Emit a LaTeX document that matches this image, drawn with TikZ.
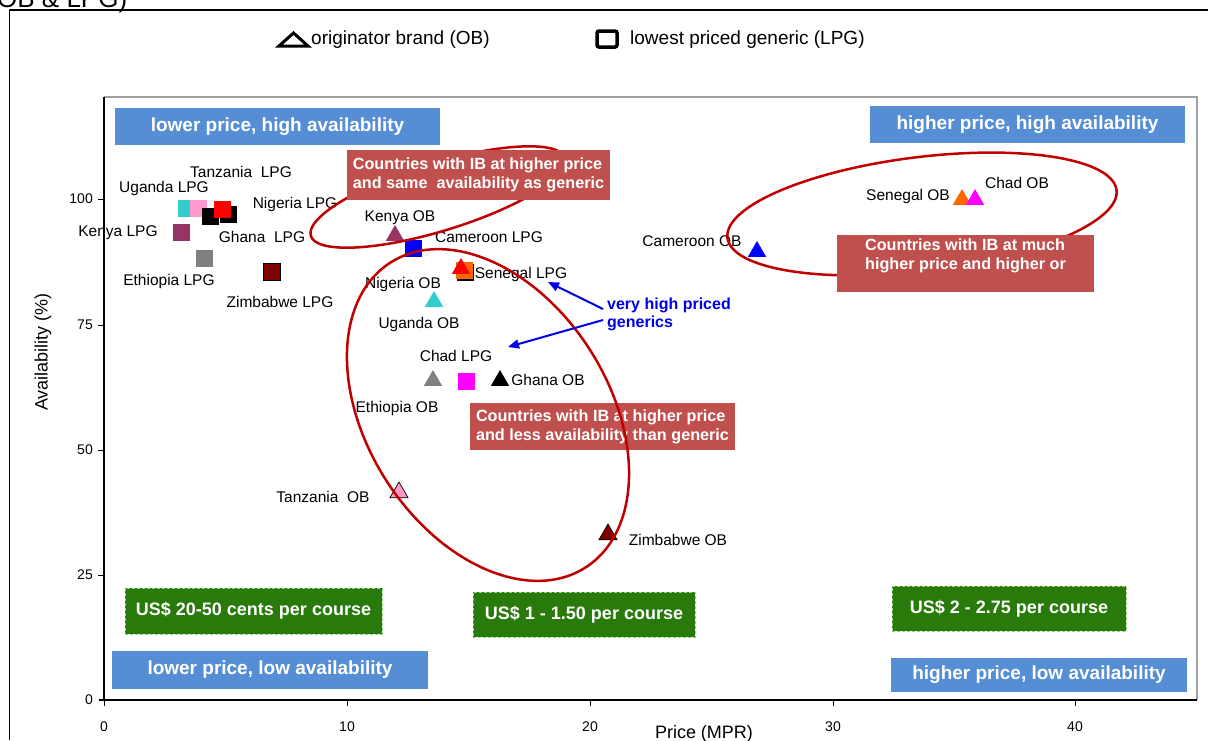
\documentclass[tikz,border=0pt]{standalone}
\usepackage{fontspec}
\setmainfont{Liberation Sans}
\usetikzlibrary{arrows.meta,shapes.geometric}
\definecolor{ellred}{RGB}{192,0,0}
\definecolor{boxred}{RGB}{192,80,77}
\definecolor{boxblue}{RGB}{85,142,213}
\definecolor{boxgreen}{RGB}{40,122,10}
\definecolor{dashgreen}{RGB}{150,210,130}
\definecolor{mcyan}{RGB}{51,204,204}
\definecolor{mpink}{RGB}{255,153,204}
\definecolor{mpurple}{RGB}{153,51,102}
\definecolor{mgray}{RGB}{128,128,128}
\definecolor{mdarkred}{RGB}{128,0,0}
\definecolor{mblue}{RGB}{0,0,255}
\definecolor{morange}{RGB}{255,102,0}
\definecolor{mmagenta}{RGB}{255,0,255}
\definecolor{mred}{RGB}{255,0,0}
\definecolor{framegray}{RGB}{160,160,160}
\definecolor{notegreen}{RGB}{0,0,230}
\begin{document}
\begin{tikzpicture}[x=1pt,y=-1pt,
  lbl/.style={font=\fontsize{15.5}{18}\selectfont, inner sep=0pt},
  ticklbl/.style={font=\fontsize{14}{16}\selectfont, inner sep=0pt},
  axtitle/.style={font=\fontsize{18}{20}\selectfont, inner sep=0pt},
  legtext/.style={font=\fontsize{19}{22}\selectfont, inner sep=0pt, anchor=west},
  ob/.style={regular polygon, regular polygon sides=3, minimum size=21pt, inner sep=0pt, fill=#1},
  lpg/.style={rectangle, minimum size=17pt, inner sep=0pt, fill=#1},
  bluebox/.style={fill=boxblue, text=white, font=\bfseries\fontsize{19}{22}\selectfont, inner sep=0pt},
  greenbox/.style={fill=boxgreen, draw=dashgreen, dash pattern=on 3pt off 2pt, line width=1pt, text=white, font=\bfseries\fontsize{18}{21}\selectfont, inner sep=0pt},
  redbox/.style={fill=boxred, text=white, font=\bfseries\fontsize{16.2}{19}\selectfont, inner sep=0pt, align=left},
  ell/.style={draw=ellred, line width=2.5pt},
  note/.style={draw=notegreen, line width=2pt, -{Triangle[length=11pt,width=9pt]}}
]
\useasboundingbox (0,0) rectangle (1208,740);

% cut-off title and outer frame
\node[font=\fontsize{26}{30}\selectfont, anchor=base west, inner sep=0pt] (title) at (-3,7) {OB \& LPG)};
\draw[line width=1.3pt] (9.5,740) -- (9.5,10) -- (1208,10);

% legend
\draw[line width=3pt, line join=miter] (279,46) -- (308,46) -- (293.5,33) -- cycle;
\node[legtext] (legob) at (311,40) {originator brand (OB)};
\draw[line width=3.5pt, rounded corners=2pt] (597,31) rectangle (617,47);
\node[legtext] (leglpg) at (630,40) {lowest priced generic (LPG)};

% plot frame
\draw[framegray, line width=1.2pt] (104,97) -- (1197,97) -- (1197,700);
\draw[line width=2pt] (104,97) -- (104,700);
\draw[line width=2.5pt] (99,700) -- (1197,700);
\foreach \yy in {575,450,325,199} \draw[line width=1pt] (98,\yy) -- (104,\yy);
\foreach \xx in {104,347,590,833,1075} \draw[line width=1pt] (\xx,700) -- (\xx,706);

% tick labels
\node[ticklbl, anchor=east] (y0) at (93,700) {0};
\node[ticklbl, anchor=east] (y25) at (93,575) {25};
\node[ticklbl, anchor=east] (y50) at (93,450) {50};
\node[ticklbl, anchor=east] (y75) at (93,325) {75};
\node[ticklbl, anchor=east] (y100) at (93,199) {100};
\node[ticklbl] (x0) at (104,727) {0};
\node[ticklbl] (x10) at (347,727) {10};
\node[ticklbl] (x20) at (590,727) {20};
\node[ticklbl] (x30) at (833,727) {30};
\node[ticklbl] (x40) at (1075,727) {40};
\node[axtitle] (xtitle) at (704,734) {Price (MPR)};
\node[axtitle, rotate=90] (ytitle) at (43,352) {Availability (\%)};

% quadrant boxes
\node[bluebox, minimum width=325pt, minimum height=37pt] (lph) at (277.5,126.5) {lower price, high availability};
\node[bluebox, minimum width=315pt, minimum height=37pt] (hph) at (1027.5,124.5) {higher price, high availability};
\node[bluebox, minimum width=316pt, minimum height=38pt] (lpl) at (270,670) {lower price, low availability};
\node[bluebox, minimum width=296pt, minimum height=34pt] (hpl) at (1039,675) {higher price, low availability};

% price boxes
\node[greenbox, minimum width=257pt, minimum height=46pt] (g1) at (253.5,611) {US\$ 20-50 cents per course};
\node[greenbox, minimum width=222pt, minimum height=45pt] (g2) at (584,614.5) {US\$ 1 - 1.50 per course};
\node[greenbox, minimum width=234pt, minimum height=45pt] (g3) at (1009,608.5) {US\$ 2 - 2.75 per course};

% lower red box (under the ellipse)
\node[redbox, minimum width=265pt, minimum height=47pt] (r3) at (602.5,426.5) {Countries with IB at higher price\\and less availability than generic};

% LPG markers
\node[lpg=mcyan] (ugl) at (186,208) {};
\node[lpg=mpink] (tzl) at (198,208) {};
\node[lpg=black] (ghl) at (210,216) {};
\node[lpg=black] (ghl2) at (228,214) {};
\node[lpg=mred] (ngl) at (222,209) {};
\node[lpg=mpurple] (kel) at (181,232) {};
\node[lpg=mgray] (etl) at (204,258) {};
\node[lpg=mdarkred, draw=black, line width=0.6pt] (zwl) at (272,272) {};
\node[lpg=mblue] (cml) at (413,248) {};
\node[lpg=black] (snl2) at (465,272) {};
\node[lpg=morange] (snl) at (464,270) {};
\node[lpg=mmagenta] (tdl) at (466,381) {};

% OB markers
\node[ob=mpurple] (keo) at (395,235.5) {};
\node[ob=mred] (ngo) at (461,268.5) {};
\node[ob=mcyan] (ugo) at (434,301.5) {};
\node[ob=mgray] (eto) at (433,380.5) {};
\node[ob=black] (gho) at (500,380.5) {};
\node[ob=mpink, draw=black, line width=0.7pt] (tzo) at (399,492.5) {};
\node[ob=mdarkred, draw=black, line width=0.7pt] (zwo) at (608,534.5) {};
\node[ob=mblue] (cmo) at (757,251.5) {};
\node[ob=morange] (sno) at (962,199.5) {};
\node[ob=mmagenta] (tdo) at (975,199.5) {};

% labels
\node[lbl] (tztl) at (241,172) {Tanzania~ LPG};
\node[lbl] (ugtl) at (164,188) {Uganda LPG};
\node[lbl] (ngtl) at (295,204) {Nigeria LPG};
\node[lbl] (ketl) at (118,233) {Kenya LPG};
\node[lbl] (ghtl) at (262,237) {Ghana~ LPG};
\node[lbl] (ettl) at (169,281) {Ethiopia LPG};
\node[lbl] (zwtl) at (280,302) {Zimbabwe LPG};
\node[lbl] (keto) at (400,218) {Kenya OB};
\node[lbl] (cmtl) at (489,237) {Cameroon LPG};
\node[lbl] (sntl) at (521,274) {Senegal LPG};
\node[lbl] (ngto) at (403,284) {Nigeria OB};
\node[lbl] (ugto) at (419,324) {Uganda OB};
\node[lbl] (tdtl) at (456,356) {Chad LPG};
\node[lbl] (ghto) at (548,380) {Ghana OB};
\node[lbl] (etto) at (397,408) {Ethiopia OB};
\node[lbl] (tzto) at (323,497) {Tanzania~ OB};
\node[lbl] (zwto) at (678,540) {Zimbabwe OB};
\node[lbl] (cmto) at (692,241) {Cameroon OB};
\node[lbl] (snto) at (908,196) {Senegal OB};
\node[lbl] (tdto) at (1017,183) {Chad OB};

% ellipses
\draw[ell, rotate around={17:(438,197)}] (438,197) ellipse [x radius=133, y radius=34];
\draw[ell, rotate around={7:(922,214)}] (922,214) ellipse [x radius=196, y radius=57];
\draw[ell, rotate around={-57.4:(488,415)}] (488,415) ellipse [x radius=181, y radius=121];

% upper red boxes
\node[redbox, minimum width=263pt, minimum height=50pt] (r1) at (478.5,175) {Countries with IB at higher price\\and same~ availability as generic};
\node[redbox, minimum width=257pt, minimum height=57pt] (r2) at (965.5,263.5) {Countries with IB at much\\higher price and higher or\\\mbox{}};

% very high priced generics
\node[font=\bfseries\fontsize{16}{18}\selectfont, text=notegreen, align=left, anchor=west, inner sep=0pt] (vh) at (607,314) {very high priced\\generics};
\coordinate (tipsn) at (548,282);
\coordinate (tiptd) at (508,347);
\draw[note] ([shift={(-4,-5)}]vh.west) -- (tipsn);
\draw[note] ([shift={(-4,6)}]vh.west) -- (tiptd);
\end{tikzpicture}
\end{document}
